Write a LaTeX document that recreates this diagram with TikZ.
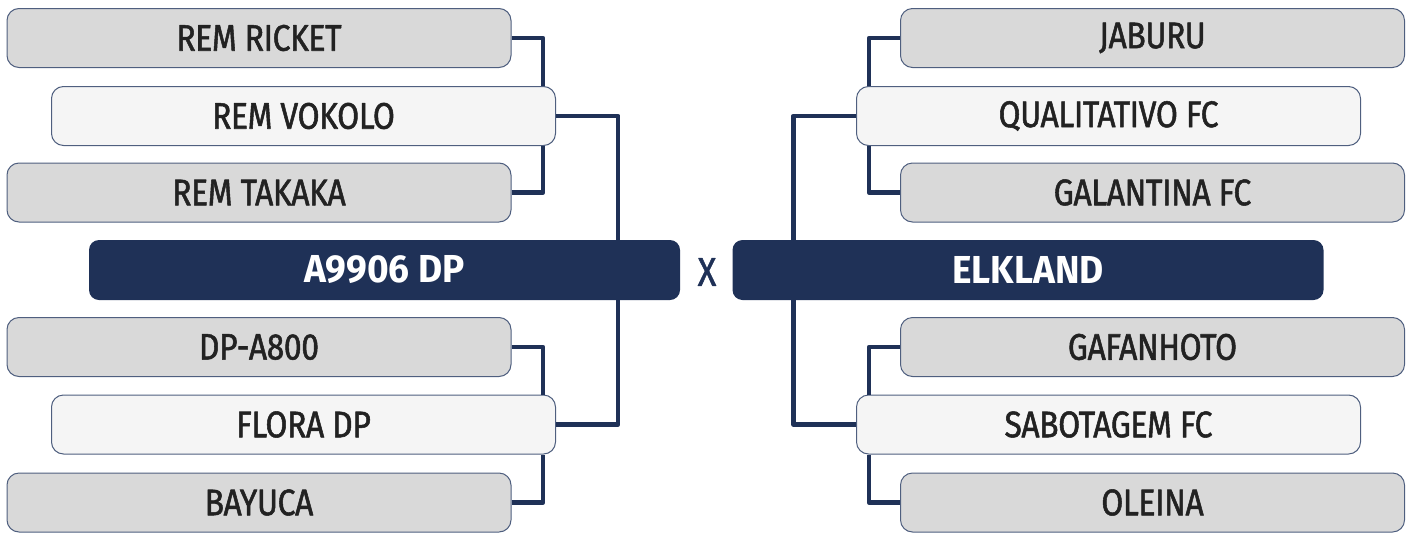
\documentclass[tikz,border=0pt]{standalone}
\usepackage{fontspec}
\setmainfont{Fira Sans}
\newfontfamily\teamfont{Fira Sans}[FakeStretch=0.86,FakeBold=1.4,LetterSpace=-1]
\newfontfamily\finalfont{Fira Sans}[FakeStretch=0.95]
\usepackage{tikz}
\usetikzlibrary{positioning,calc}
\definecolor{navy}{HTML}{1F3157}
\definecolor{teamgray}{HTML}{D9D9D9}
\definecolor{teamlight}{HTML}{F5F5F5}
\definecolor{teamedge}{HTML}{4F5F7F}
\definecolor{teamtext}{HTML}{222222}

\begin{document}
\begin{tikzpicture}[
			x=1pt,
			y=-1pt,
			line cap=round,
			line join=round,
			team/.style={rectangle,rounded corners=12pt,draw=teamedge,line width=1pt,
				minimum width=504pt,minimum height=59pt,inner sep=0pt,
				text=teamtext,font=\teamfont\fontsize{37}{41}\selectfont},
			outer/.style={team,fill=teamgray},
			inner/.style={team,fill=teamlight},
			finalist/.style={rectangle,rounded corners=10pt,fill=navy,
				minimum width=591pt,minimum height=60pt,inner sep=0pt,
				text=white,font=\finalfont\fontsize{39}{43}\selectfont\bfseries},
			link/.style={draw=navy,line width=4.5pt,line cap=butt}
			]
			
			\useasboundingbox (0,0) rectangle (1412,533);
			
			%------------------------------
			% Left half of the bracket
			%------------------------------
			\node[outer] (ricket) at (259,38) {REM RICKET};
			\node[inner] (vokolo) at (303.5,116) {REM VOKOLO};
			\node[outer] (takaka) at (259,192.5) {REM TAKAKA};
			
			\node[outer] (dpa) at (259,347) {DP-A800};
			\node[inner] (flora) at (303.5,424.5) {FLORA DP};
			\node[outer] (bayuca) at (259,502.5) {BAYUCA};
			
			%------------------------------
			% Right half of the bracket
			%------------------------------
			\node[outer] (jaburu) at (1152.5,38) {JABURU};
			\node[inner] (quali) at (1108.5,116) {QUALITATIVO FC};
			\node[outer] (galantina) at (1152.5,192.5) {GALANTINA FC};
			
			\node[outer] (gafanhoto) at (1152.5,347) {GAFANHOTO};
			\node[inner] (sabotagem) at (1108.5,424.5) {SABOTAGEM FC};
			\node[outer] (oleina) at (1152.5,502.5) {OLEINA};
			
			%------------------------------
			% Final
			%------------------------------
			\node[finalist] (a9906) at (384.5,270) {A9906 DP};
			\node[finalist] (elkland) at (1028,270) {ELKLAND};
			\node[text=navy,font=\teamfont\fontsize{40}{44}\selectfont,inner sep=0pt] (versus) at (707,272) {X};
			
			%------------------------------
			% Connectors
			%------------------------------
			\draw[link] (ricket.east) -| ([xshift=-13pt]vokolo.north east);
			\draw[link] (takaka.east) -| ([xshift=-13pt]vokolo.south east);
			\draw[link] (dpa.east) -| ([xshift=-13pt]flora.north east);
			\draw[link] (bayuca.east) -| ([xshift=-13pt]flora.south east);
			\draw[link] (vokolo.east) -| ([xshift=-62pt]a9906.north east);
			\draw[link] (flora.east) -| ([xshift=-62pt]a9906.south east);
			
			\draw[link] (jaburu.west) -| ([xshift=13pt]quali.north west);
			\draw[link] (galantina.west) -| ([xshift=13pt]quali.south west);
			\draw[link] (gafanhoto.west) -| ([xshift=13pt]sabotagem.north west);
			\draw[link] (oleina.west) -| ([xshift=13pt]sabotagem.south west);
			\draw[link] (quali.west) -| ([xshift=61pt]elkland.north west);
			\draw[link] (sabotagem.west) -| ([xshift=61pt]elkland.south west);
		\end{tikzpicture}
\end{document}
